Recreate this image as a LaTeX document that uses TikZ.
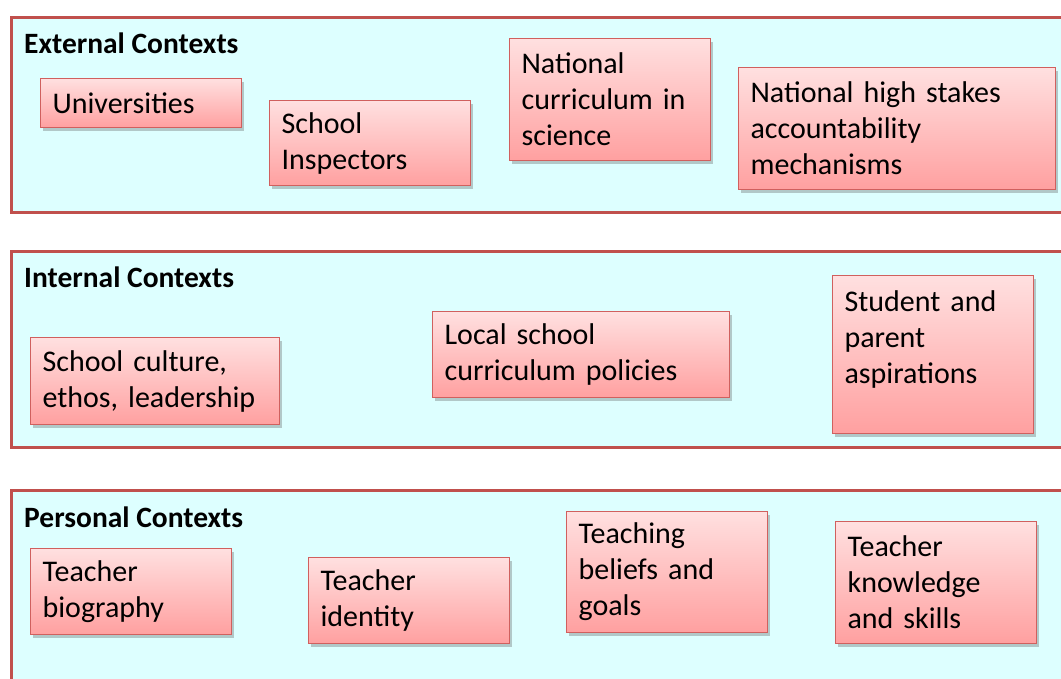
\documentclass[tikz,border=0pt]{standalone}
\usepackage{fontspec}
\setmainfont{Carlito}
\usetikzlibrary{shadows}
\definecolor{framered}{RGB}{192,80,77}
\definecolor{boxedge}{RGB}{208,96,94}
\definecolor{panelfill}{RGB}{221,255,255}
\definecolor{boxtop}{RGB}{255,224,224}
\definecolor{boxbot}{RGB}{255,160,160}
\tikzset{
  panel/.style={draw=framered, line width=3pt, fill=panelfill},
  paneltitle/.style={anchor=west, inner sep=0pt, font=\fontsize{29.5}{35}\selectfont\bfseries},
  ctxbox/.style={draw=boxedge, line width=1.2pt, top color=boxtop, bottom color=boxbot,
    drop shadow={shadow xshift=2.5pt, shadow yshift=-3pt, opacity=0.3, fill=black!70},
    anchor=north west, align=left, inner xsep=12pt, inner ysep=2pt,
    font=\fontsize{30}{36}\selectfont},
}
\begin{document}
\begin{tikzpicture}[x=1pt,y=-1pt]
\useasboundingbox (0,0) rectangle (1061,678);
\clip (0,0) rectangle (1061,678);
% panels
\draw[panel] (11,17) rectangle (1080,212);
\draw[panel] (11,251) rectangle (1080,447);
\draw[panel] (11,490) rectangle (1080,720);
\node[paneltitle] (ext) at (24,43) {External Contexts};
\node[paneltitle] (int) at (24,277) {Internal Contexts};
\node[paneltitle] (per) at (24,517) {Personal Contexts};
% external
\node[ctxbox, text width=177pt, minimum height=49pt] (u) at (40,78) {Universities};
\node[ctxbox, text width=177pt, minimum height=85pt] (si) at (269,100) {School\\Inspectors};
\node[ctxbox, text width=177pt, minimum height=122pt] (nc) at (509,38) {National\\curriculum in\\science};
\node[ctxbox, text width=293pt, minimum height=122pt] (nh) at (738,67) {National high stakes\\accountability\\mechanisms};
% internal
\node[ctxbox, text width=225pt, minimum height=87pt] (sc) at (30,337) {School culture,\\ethos, leadership};
\node[ctxbox, text width=273pt, minimum height=86pt] (lp) at (432,311) {Local school\\curriculum policies};
\node[ctxbox, text width=177pt, minimum height=158pt] (sp) at (832,275) {Student and\\parent\\aspirations\\\mbox{}};
% personal
\node[ctxbox, text width=177pt, minimum height=86pt] (tb) at (30,548) {Teacher\\biography};
\node[ctxbox, text width=177pt, minimum height=86pt] (ti) at (308,557) {Teacher\\identity};
\node[ctxbox, text width=177pt, minimum height=121pt] (tg) at (566,511) {Teaching\\beliefs and\\goals};
\node[ctxbox, text width=177pt, minimum height=122pt] (tk) at (835,521) {Teacher\\knowledge\\and skills};
\end{tikzpicture}
\end{document}
